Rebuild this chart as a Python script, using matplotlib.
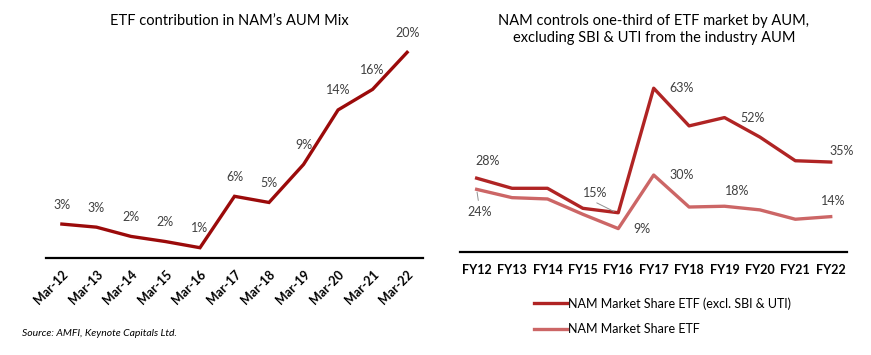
import matplotlib.pyplot as plt
import numpy as np

plt.rcParams['font.family'] = ['Lato', 'DejaVu Sans']

# left chart data
years_l = ['Mar-12', 'Mar-13', 'Mar-14', 'Mar-15', 'Mar-16', 'Mar-17',
           'Mar-18', 'Mar-19', 'Mar-20', 'Mar-21', 'Mar-22']
etf_mix = [3.3, 3.0, 2.1, 1.6, 1.0, 6.0, 5.4, 9.1, 14.4, 16.4, 20.0]

# right chart data
years_r = ['FY12', 'FY13', 'FY14', 'FY15', 'FY16', 'FY17',
           'FY18', 'FY19', 'FY20', 'FY21', 'FY22']
share_excl = [28.4, 24.5, 24.5, 16.8, 15.1, 63.0, 48.5, 51.7, 44.2, 35.1, 34.6]
share_all = [24.1, 20.9, 20.4, 14.5, 9.0, 29.6, 17.3, 17.6, 16.2, 12.6, 13.6]
name_excl = 'NAM Market Share ETF (excl. SBI & UTI)'
name_all = 'NAM Market Share ETF'

lbl_color = '#404040'

fig = plt.figure(figsize=(8.71, 3.55), dpi=100)

# ---- left
ax1 = fig.add_axes([46 / 871, 1 - 258 / 355, 377 / 871, 218 / 355])
x = np.arange(len(years_l))
ax1.plot(x, etf_mix, color='#9B0A0A', lw=2.4, solid_joinstyle='miter')
for i, v in enumerate(etf_mix):
    ax1.annotate(f'{round(v)}%', (i, v), xytext=(0, 14), textcoords='offset points',
                 ha='center', va='center', fontsize=9, color=lbl_color)
ax1.set_xlim(-0.46, 10.46)
ax1.set_ylim(0, 21.2)
ax1.set_xticks(x)
ax1.set_xticklabels(years_l, rotation=45, ha='right', rotation_mode='anchor',
                    fontsize=9, fontweight='bold')
ax1.tick_params(axis='x', length=0, pad=7)
ax1.set_yticks([])
for s in ['top', 'right', 'left']:
    ax1.spines[s].set_visible(False)
ax1.spines['bottom'].set_linewidth(1.6)
fig.text(229 / 871, 1 - 21 / 355, "ETF contribution in NAM\u2019s AUM Mix",
         ha='center', va='center', fontsize=10.5)
fig.text(22 / 871, 1 - 333 / 355, 'Source: AMFI, Keynote Capitals Ltd.',
         ha='left', va='center', fontsize=7.5, style='italic')

# ---- right
ax2 = fig.add_axes([460 / 871, 1 - 252 / 355, 387 / 871, 182 / 355])
x = np.arange(len(years_r))
ax2.plot(x, share_excl, color='#B02424', lw=2.4, label=name_excl)
ax2.plot(x, share_all, color='#CC6666', lw=2.4, label=name_all)

# (index, dx, dy) in points
lab_excl = [(0, 8, 12), (4, -17, 14), (5, 20, 0), (7, 20, 0), (10, 8, 8)]
lab_all = [(0, 2, -16), (4, 17, 0), (5, 20, 0), (7, 9, 11), (10, 2, 11)]
for i, dx, dy in lab_excl:
    ax2.annotate(f'{round(share_excl[i])}%', (x[i], share_excl[i]), xytext=(dx, dy),
                 textcoords='offset points', ha='center', va='center',
                 fontsize=9, color=lbl_color)
for i, dx, dy in lab_all:
    ax2.annotate(f'{round(share_all[i])}%', (x[i], share_all[i]), xytext=(dx, dy),
                 textcoords='offset points', ha='center', va='center',
                 fontsize=9, color=lbl_color)
# leader lines
ax2.annotate('', (x[4] - 0.05, share_excl[4]), xytext=(-16, 8), textcoords='offset points',
             arrowprops=dict(arrowstyle='-', color='#909090', lw=0.7))
ax2.annotate('', (x[0], share_all[0]), xytext=(1.5, -10), textcoords='offset points',
             arrowprops=dict(arrowstyle='-', color='#909090', lw=0.7))

ax2.set_xlim(-0.47, 10.46)
ax2.set_ylim(0, 70)
ax2.set_xticks(x)
ax2.set_xticklabels(years_r, fontsize=9, fontweight='bold')
ax2.tick_params(axis='x', length=0, pad=9)
ax2.set_yticks([])
for s in ['top', 'right', 'left']:
    ax2.spines[s].set_visible(False)
ax2.spines['bottom'].set_linewidth(1.6)
fig.text(654 / 871, 1 - 21 / 355, 'NAM controls one-third of ETF market by AUM,',
         ha='center', va='center', fontsize=10.5)
fig.text(654 / 871, 1 - 38 / 355, 'excluding SBI & UTI from the industry AUM',
         ha='center', va='center', fontsize=10.5)
ax2.legend(loc='upper left', bbox_to_anchor=(528 / 871, 1 - 291 / 355),
           bbox_transform=fig.transFigure, frameon=False, fontsize=9,
           handlelength=2.6, handletextpad=0.1, labelspacing=1.05, borderpad=0)

fig.savefig('out.png', dpi=100)
